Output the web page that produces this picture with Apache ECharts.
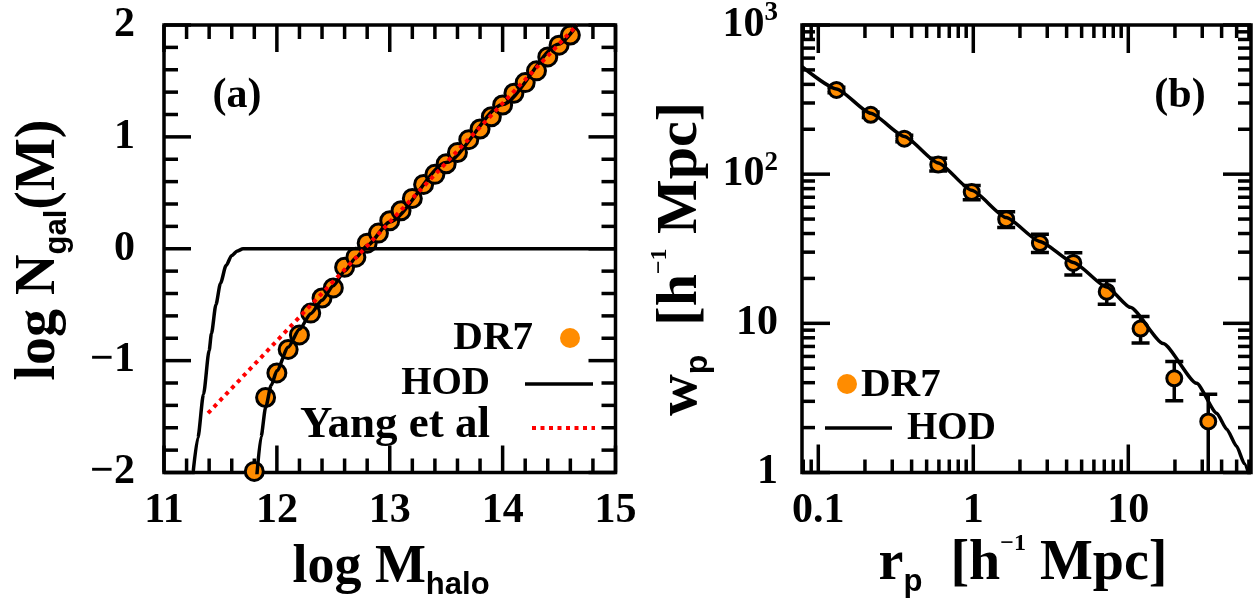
<!DOCTYPE html>
<html><head><meta charset="utf-8">
<script src="https://cdn.jsdelivr.net/npm/echarts@6/dist/echarts.min.js"></script>
<style>html,body{margin:0;padding:0;background:#fff}#c{width:1253px;height:613px}</style>
</head><body><div id="c"></div>
<script>
// ---------- Panel (a): log N_gal vs log M_halo ----------
const dr7LogM = [11.8,11.9,12.0,12.1,12.2,12.3,12.4,12.5,12.6,12.7,12.8,12.9,13.0,13.1,13.2,13.3,13.4,13.5,13.6,13.7,13.8,13.9,14.0,14.1,14.2,14.3,14.4,14.5,14.6];
const dr7LogN = [-1.99,-1.33,-1.11,-0.90,-0.77,-0.575,-0.44,-0.35,-0.165,-0.075,0.05,0.14,0.25,0.34,0.45,0.575,0.665,0.76,0.86,0.975,1.07,1.18,1.285,1.39,1.485,1.59,1.715,1.82,1.91];
const hodCenX = [11.25,11.30,11.35,11.40,11.42,11.46,11.50,11.55,11.60,11.65,11.70,11.85,15.0];
const hodCenY = [-2.08,-1.69,-1.30,-0.91,-0.76,-0.50,-0.31,-0.15,-0.06,-0.02,0.0,0.0,0.0];
const hodTotX = [11.82,11.86,11.90,11.95,12.0,12.1,12.2,12.3,12.4,12.5,12.6,12.7,12.8,13.0,13.5,14.0,14.5,14.66];
const hodTotY = [-2.06,-1.68,-1.42,-1.22,-1.09,-0.88,-0.72,-0.58,-0.46,-0.33,-0.20,-0.08,0.03,0.24,0.77,1.29,1.83,2.0];
const yangX = [11.39,14.66];
const yangY = [-1.47,2.0];
const aXRange = [11,15];
const aYRange = [-2,2];
const aXTicks = [11,12,13,14,15];
const aXLabels = ['11','12','13','14','15'];
const aYTicks = [-2,-1,0,1,2];
const aYLabels = ['\u22122','\u22121','0','1','2'];

// ---------- Panel (b): w_p vs r_p ----------
const rp = [0.131,0.218,0.359,0.594,0.977,1.63,2.69,4.42,7.26,12.0,19.8,32.8];
const wp = [367,250,173,116,75.9,49.9,34.5,25.4,16.3,9.22,4.28,2.20];
const wpLo = [352,240,165,105,67.5,43.9,29.9,21.1,13.4,7.38,3.03,0.9];
const wpHi = [383,261,182,128,84.1,55.9,39.5,29.7,19.4,11.1,5.55,3.34];
const hodRp = [0.0785,0.131,0.218,0.359,0.594,0.977,1.63,2.69,4.42,7.26,10.3,16.8,27.6,37.2,43.2,50.0,56.0,61.9];
const hodWp = [526,373,256,179,119,77.9,51.2,35.4,25.6,17.5,12.8,7.32,3.96,2.5,1.95,1.5,1.15,0.88];
const bXTickVals = [0.1,1,10];
const bXLabels = ['0.1','1','10'];
const bYTickVals = [1,10,100,1000];
const bYLabels = ['1','10','10{s|2}','10{s|3}'];
const bXRange = [0.0785,61.9];
const bYRange = [1,1000];

const L = Math.log10;
const SERIF = 'Liberation Serif';
const SANS = 'Liberation Sans';
const ORANGE = '#ff8c00';

function minorLin(lo, hi, step) {
  const out = [];
  const n = Math.round((hi - lo) / step);
  for (let i = 1; i < n; i++) { if (i % 5) out.push(+(lo + i * step).toFixed(6)); }
  return out;
}
function minorLogs(lo, hi) {
  const out = [];
  for (let n = -3; n <= 3; n++) for (let k = 2; k <= 9; k++) {
    const v = n + L(k);
    if (v > L(lo) && v < L(hi)) out.push(v);
  }
  return out;
}

const labelFont = {fontFamily:SERIF, fontWeight:'bold', fontSize:42, color:'#000'};

function mkAxis(grid, pos, min, max, majors, labels, isX) {
  return {
    type:'value', gridIndex:grid, position:pos, min, max,
    axisLine:{show:false, onZero:false},
    axisTick:{show:false},
    splitLine:{show:false},
    axisLabel: Object.assign({show:true, customValues: majors,
      margin: isX ? 39 : (grid === 0 ? 29 : 24), verticalAlign:'middle', lineHeight:50,
      formatter: v => labels[majors.findIndex(t => Math.abs(t - v) < 1e-6)],
      rich:{s:{fontFamily:SERIF, fontWeight:'bold', fontSize:27, lineHeight:24, verticalAlign:'top'}}
    }, labelFont)
  };
}

const bXMaj = bXTickVals.map(L), bYMaj = bYTickVals.map(L);
const bxr = bXRange.map(L), byr = bYRange.map(L);

// frame ticks (inside, all four sides) drawn as thin rect symbols through the axes' scales
const TW = 3.5;
function tickSet(idx, xr, yr, xVals, yVals, len) {
  const mk = (data, size, off) => ({type:'scatter', xAxisIndex:idx, yAxisIndex:idx, clip:false, z:2, silent:true,
    symbol:'rect', symbolSize:size, symbolOffset:off, itemStyle:{color:'#000', opacity:1},
    emphasis:{disabled:true}, data});
  return [
    mk(xVals.map(v => [v, yr[0]]), [TW, len], [0, -len / 2]),
    mk(xVals.map(v => [v, yr[1]]), [TW, len], [0, len / 2]),
    mk(yVals.map(v => [xr[0], v]), [len, TW], [len / 2, 0]),
    mk(yVals.map(v => [xr[1], v]), [len, TW], [-len / 2, 0])
  ];
}

function rich(fs, sub, sup) {
  return {
    m:{fontFamily:SERIF, fontWeight:'bold', fontSize:fs, lineHeight:66, color:'#000'},
    s:{fontFamily:SANS, fontWeight:'bold', fontSize:sub, lineHeight:18, verticalAlign:'bottom', color:'#000'},
    u:{fontFamily:SERIF, fontWeight:'bold', fontSize:sup, lineHeight:36, verticalAlign:'top', color:'#000'}
  };
}

function txt(x, y, text, opts) {
  return Object.assign({type:'text', x, y, z:100, style:Object.assign({text, fill:'#000',
    fontFamily:SERIF, fontWeight:'bold', fontSize:42, align:'center', verticalAlign:'middle'}, opts && opts.style)},
    opts && opts.el);
}

const chart = echarts.init(document.getElementById('c'), null, {renderer:'canvas'});
chart.setOption({
  animation:false,
  backgroundColor:'#fff',
  grid:[
    {left:164, top:23, width:451.5, height:449.5, show:true, borderColor:'#000', borderWidth:3.5, backgroundColor:'transparent'},
    {left:802, top:23, width:449, height:449.5, show:true, borderColor:'#000', borderWidth:3.5, backgroundColor:'transparent'}
  ],
  xAxis:[
    mkAxis(0,'bottom',aXRange[0],aXRange[1],aXTicks,aXLabels,true),
    mkAxis(1,'bottom',bxr[0],bxr[1],bXMaj,bXLabels,true)
  ],
  yAxis:[
    mkAxis(0,'left',aYRange[0],aYRange[1],aYTicks,aYLabels,false),
    mkAxis(1,'left',byr[0],byr[1],bYMaj,bYLabels,false)
  ],
  series: [].concat(
    tickSet(0, aXRange, aYRange, aXTicks, aYTicks, 27),
    tickSet(0, aXRange, aYRange, minorLin(11,15,0.2), minorLin(-2,2,0.2), 14),
    tickSet(1, bxr, byr, bXMaj, bYMaj, 28),
    tickSet(1, bxr, byr, minorLogs(bXRange[0],bXRange[1]), minorLogs(bYRange[0],bYRange[1]), 13),
  [
    {type:'scatter', name:'DR7', xAxisIndex:0, yAxisIndex:0, clip:false, z:2,
     data: dr7LogM.map((x,i)=>[x, dr7LogN[i]]), symbolSize:18,
     itemStyle:{color:ORANGE, borderColor:'#000', borderWidth:3, opacity:1}},
    {type:'line', name:'HOD central', xAxisIndex:0, yAxisIndex:0, z:3, showSymbol:false, smooth:0.25, smoothMonotone:'x',
     data: hodCenX.map((x,i)=>[x, hodCenY[i]]), lineStyle:{color:'#000', width:3.5}},
    {type:'line', name:'HOD', xAxisIndex:0, yAxisIndex:0, z:3, showSymbol:false, smooth:0.25, smoothMonotone:'x',
     data: hodTotX.map((x,i)=>[x, hodTotY[i]]), lineStyle:{color:'#000', width:3.5}},
    {type:'line', name:'Yang et al', xAxisIndex:0, yAxisIndex:0, z:4, showSymbol:false,
     data: yangX.map((x,i)=>[x, yangY[i]]), lineStyle:{color:'#ff0000', width:4, type:[4,4.5]}},

    {type:'custom', name:'err', xAxisIndex:1, yAxisIndex:1, clip:true, z:2,
     data: rp.map((x,i)=>[L(x), L(wpLo[i]), L(wpHi[i])]),
     encode:{x:0, y:[1,2]},
     renderItem:(params, api) => {
       const x = api.value(0);
       const a = api.coord([x, api.value(1)]), b = api.coord([x, api.value(2)]);
       const hw = 9, st = {stroke:'#000', lineWidth:3.5};
       return {type:'group', children:[
         {type:'line', shape:{x1:a[0], y1:a[1], x2:b[0], y2:b[1]}, style:st},
         {type:'line', shape:{x1:a[0]-hw, y1:a[1], x2:a[0]+hw, y2:a[1]}, style:st},
         {type:'line', shape:{x1:b[0]-hw, y1:b[1], x2:b[0]+hw, y2:b[1]}, style:st}
       ]};
     }},
    {type:'scatter', name:'DR7 wp', xAxisIndex:1, yAxisIndex:1, clip:false, z:3,
     data: rp.map((x,i)=>[L(x), L(wp[i])]), symbolSize:15,
     itemStyle:{color:ORANGE, borderColor:'#000', borderWidth:3, opacity:1}},
    {type:'line', name:'HOD wp', xAxisIndex:1, yAxisIndex:1, z:4, showSymbol:false, smooth:0.2, smoothMonotone:'x',
     data: hodRp.map((x,i)=>[L(x), L(hodWp[i])]), lineStyle:{color:'#000', width:3.5}}
  ]),
  graphic:[
    // axis titles
    txt(40, 250, '{m|log N}{s|gal}{m|(M)}', {style:{rich:rich(56,31,24)}, el:{rotation:Math.PI/2}}),
    txt(391, 568, '{m|log M}{s|halo}', {style:{rich:rich(54,31,24)}}),
    txt(681, 259, '{m|w}{s|p}{m|  [h}{u|\u22121}{m| Mpc]}', {style:{rich:rich(58,32,24)}, el:{rotation:Math.PI/2}}),
    txt(1023, 565, '{m|r}{s|p}{m|  [h}{u|\u22121}{m| Mpc]}', {style:{rich:rich(56,31,24)}}),
    // panel labels
    txt(237, 96, '(a)'),
    txt(1180, 96, '(b)'),
    // legend (a)
    txt(533, 338, 'DR7', {style:{align:'right', fontSize:41}}),
    {type:'circle', z:100, shape:{cx:570, cy:338, r:10}, style:{fill:ORANGE}},
    txt(490, 384, 'HOD', {style:{align:'right', fontSize:39}}),
    {type:'line', z:100, shape:{x1:525, y1:384, x2:593, y2:384}, style:{stroke:'#000', lineWidth:3.5}},
    txt(490, 425, 'Yang et al', {style:{align:'right', fontSize:45}}),
    {type:'line', z:100, shape:{x1:532, y1:428, x2:595, y2:428}, style:{stroke:'#ff0000', lineWidth:4, lineDash:[4,4.5]}},
    // legend (b)
    {type:'circle', z:100, shape:{cx:847, cy:384, r:10}, style:{fill:ORANGE}},
    txt(861, 385, 'DR7', {style:{align:'left', fontSize:41}}),
    {type:'line', z:100, shape:{x1:825, y1:428, x2:892, y2:428}, style:{stroke:'#000', lineWidth:3.5}},
    txt(907, 429, 'HOD', {style:{align:'left', fontSize:39}})
  ]
});
</script></body></html>
